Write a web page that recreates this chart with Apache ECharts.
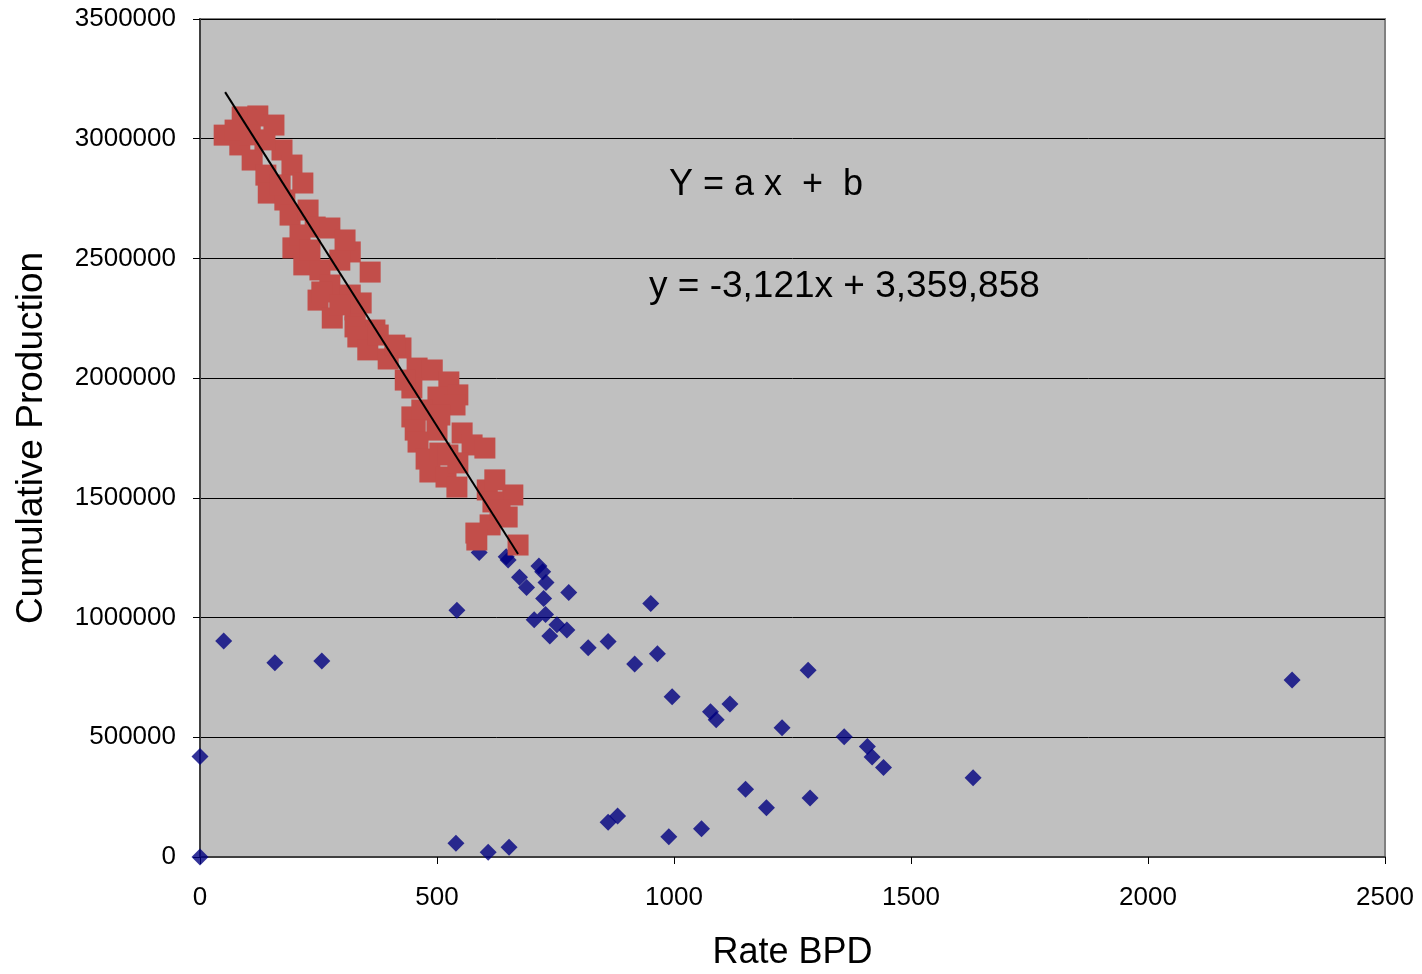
<!DOCTYPE html>
<html>
<head>
<meta charset="utf-8">
<script src="https://cdn.jsdelivr.net/npm/echarts@6/dist/echarts.min.js"></script>
<style>html,body{margin:0;padding:0;background:#fff;}#c{width:1422px;height:974px;}</style>
</head>
<body>
<div id="c"></div>
<script>
// Blue points (all data)
const rateBlue = [0,0,50,158,257,542,540,608,652,589,646,650,674,689,715,723,730,778,725,729,705,753,774,738,819,861,951,1283,917,965,996,1077,1089,1118,1228,1359,1408,1418,1442,1151,1195,1287,861,881,989,1058,2304,1631];
const cumBlue  = [420000,0,902000,811000,819000,1031000,57000,20000,41000,1272000,1254000,1240000,1168000,1126000,1215000,1191000,1147000,1105000,1080000,1013000,991000,970000,948000,923000,874000,900000,1059000,780000,806000,849000,669000,607000,573000,639000,540000,502000,462000,418000,374000,283000,206000,246000,145000,171000,85000,118000,739000,331000];

// Red points (fitted subset)
const rateRed = [51,89,122,156,84,110,139,173,194,217,144,179,190,196,228,243,274,219,249,253,274,317,359,279,317,327,369,257,340,327,333,354,376,397,424,458,490,525,447,502,544,538,447,468,454,500,553,574,601,460,477,506,485,519,542,544,606,660,618,648,582,612,671,584,169,211,232,295,306,74,106,137,295,411,433,506,523,633,622];
const cumRed  = [3015000,3091000,3095000,3057000,2974000,2911000,2848000,2953000,2890000,2815000,2773000,2744000,2681000,2544000,2702000,2631000,2627000,2473000,2326000,2452000,2389000,2527000,2443000,2251000,2347000,2285000,2201000,2360000,2314000,2214000,2172000,2118000,2180000,2080000,2126000,2042000,2034000,1984000,1959000,1921000,1930000,1888000,1838000,1867000,1783000,1783000,1771000,1721000,1708000,1733000,1662000,1687000,1608000,1587000,1545000,1646000,1533000,1512000,1483000,1420000,1353000,1387000,1303000,1324000,2807000,2598000,2535000,2493000,2577000,3036000,3016000,2995000,2306000,2138000,1992000,1846000,1679000,1449000,1575000];

// Linear trend
const trendSlope = -3121;
const trendIntercept = 3359858;
const trendRange = [53, 671];

const xTicks = [0, 500, 1000, 1500, 2000, 2500];
const yTicks = [0, 500000, 1000000, 1500000, 2000000, 2500000, 3000000, 3500000];

const blueData = rateBlue.map((x, i) => [x, cumBlue[i]]);
const redData = rateRed.map((x, i) => [x, cumRed[i]]);
const trendData = trendRange.map(x => [x, trendSlope * x + trendIntercept]);

const FONT = "'Liberation Sans', Arial, sans-serif";
const chart = echarts.init(document.getElementById('c'));
chart.setOption({
  animation: false,
  backgroundColor: '#ffffff',
  grid: {
    left: 200, right: 37, top: 19, bottom: 117,
    containLabel: false, outerBoundsMode: 'none',
    show: true, backgroundColor: '#C0C0C0', borderColor: '#808080', borderWidth: 2
  },
  xAxis: {
    type: 'value', min: xTicks[0], max: xTicks[xTicks.length - 1], interval: 500,
    name: 'Rate BPD', nameLocation: 'middle', nameGap: 78,
    nameTextStyle: { fontFamily: FONT, fontSize: 36, color: '#000' },
    axisLine: { show: true, lineStyle: { color: '#404040', width: 2 } },
    axisTick: { show: true, inside: false, length: 7, lineStyle: { color: '#000' } },
    axisLabel: { fontFamily: FONT, fontSize: 26, color: '#000', margin: 28, formatter: v => String(v) },
    splitLine: { show: false }
  },
  yAxis: {
    type: 'value', min: yTicks[0], max: yTicks[yTicks.length - 1], interval: 500000,
    name: 'Cumulative Production', nameLocation: 'middle', nameGap: 150,
    nameTextStyle: { fontFamily: FONT, fontSize: 37, color: '#000' },
    axisLine: { show: true, lineStyle: { color: '#404040', width: 2 } },
    axisTick: { show: true, inside: false, length: 7, lineStyle: { color: '#000' } },
    axisLabel: { fontFamily: FONT, fontSize: 26, color: '#000', margin: 24, formatter: v => String(v) },
    splitLine: { show: true, lineStyle: { color: '#000', width: 1 } }
  },
  series: [
    {
      type: 'scatter', data: blueData, symbol: 'diamond', symbolSize: 17,
      itemStyle: { color: '#000080' }, z: 2
    },
    {
      type: 'scatter', data: redData, symbol: 'rect', symbolSize: 21,
      itemStyle: { color: '#C24E4A', opacity: 1 }, z: 3
    },
    {
      type: 'line', data: trendData, symbol: 'none',
      lineStyle: { color: '#000', width: 2 }, z: 4, silent: true
    }
  ],
  graphic: [
    { type: 'text', left: 669, top: 167, style: { text: 'Y = a x  +  b', font: "36px " + FONT, fill: '#000' } },
    { type: 'text', left: 649, top: 268, style: { text: 'y = -3,121x + 3,359,858', font: "37px " + FONT, fill: '#000' } }
  ]
});
</script>
</body>
</html>
